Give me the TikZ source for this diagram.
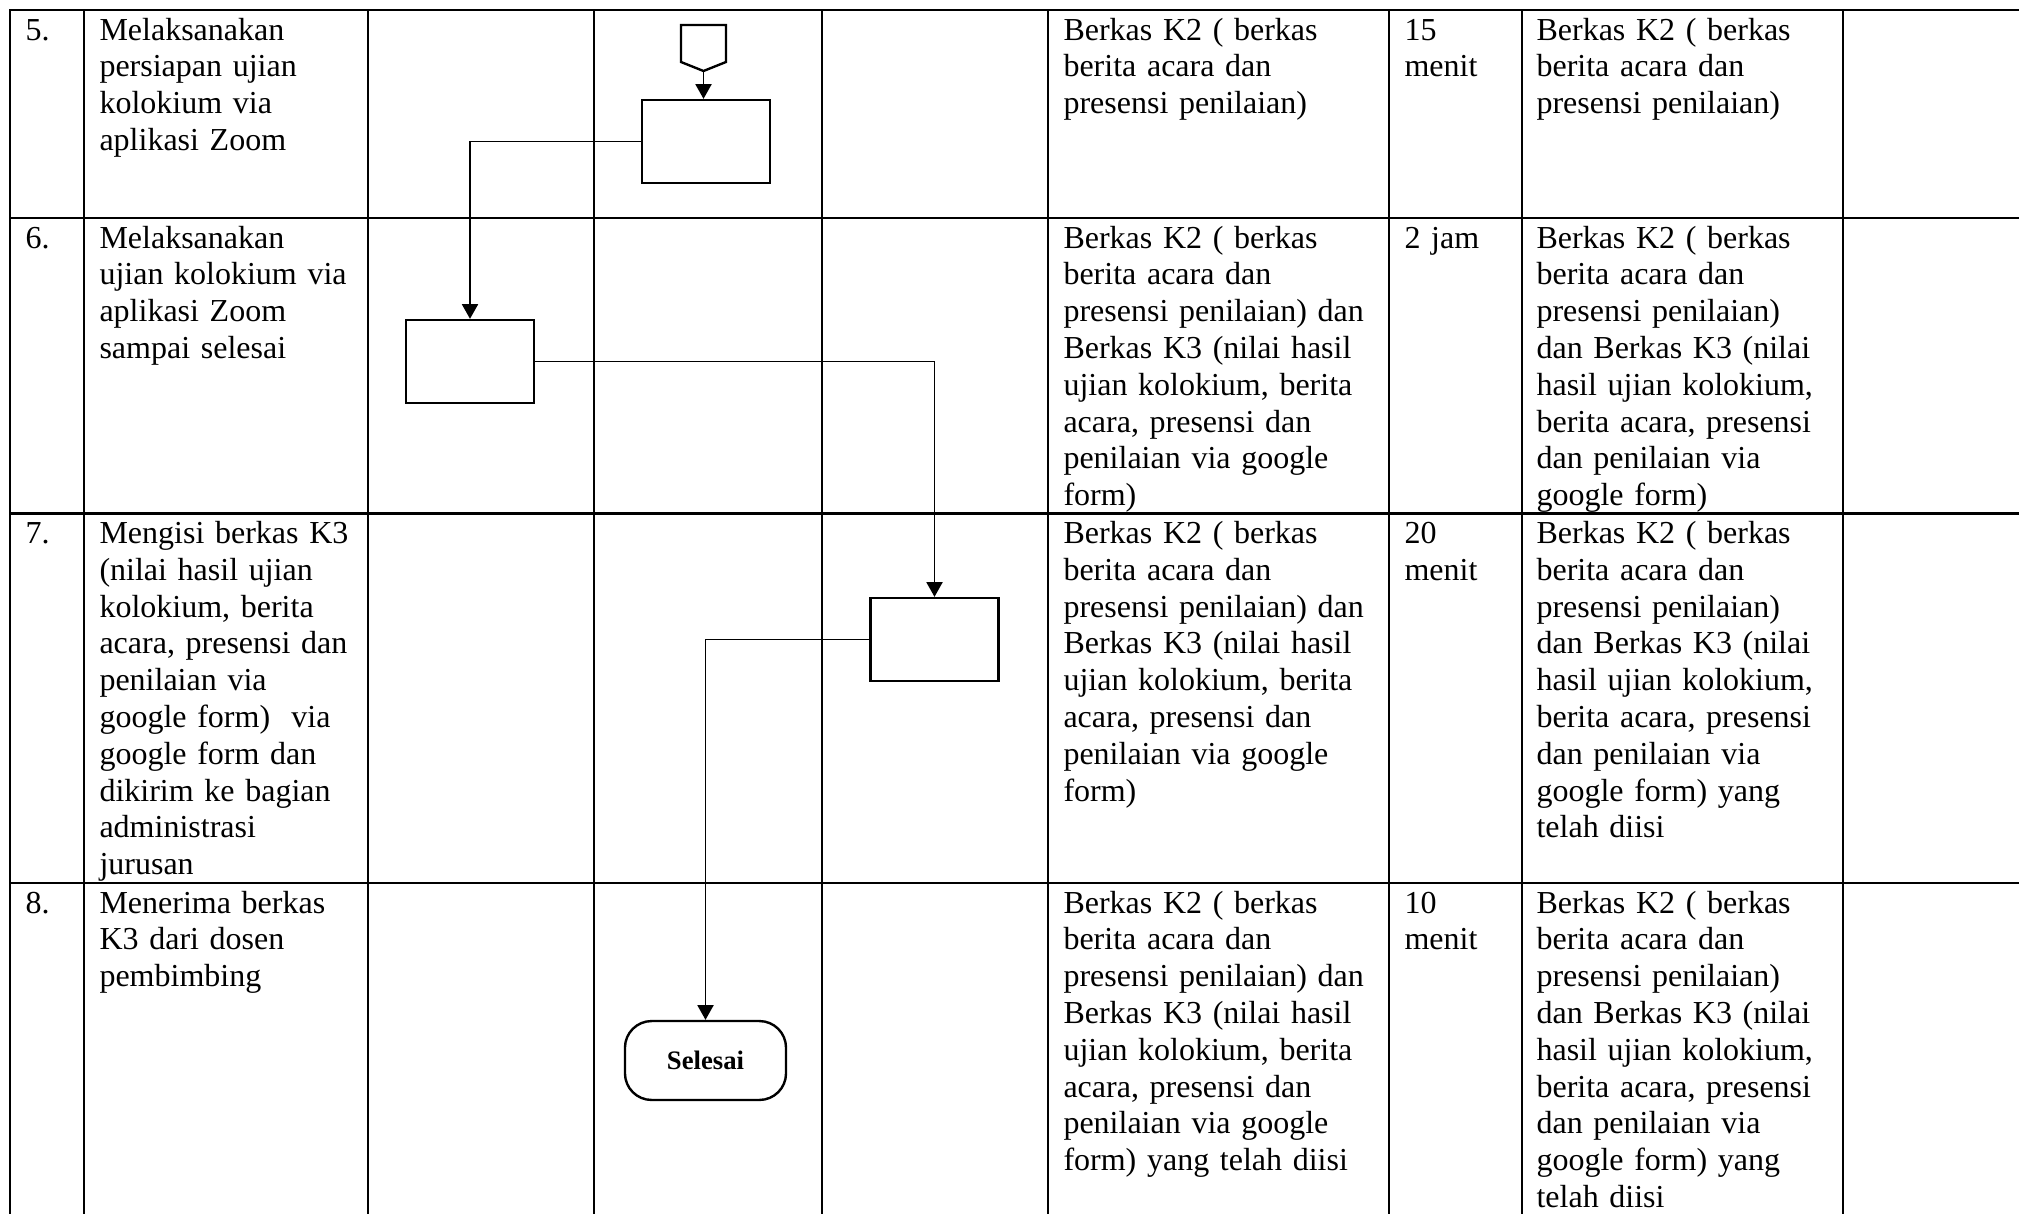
\documentclass[tikz,border=0pt]{standalone}
\usepackage{fontspec}
\setmainfont{Liberation Serif}
\usetikzlibrary{arrows.meta}
\tikzstyle{grid}=[line width=.85pt]
\tikzstyle{cell}=[anchor=base west,inner sep=0pt,text width=135pt,align=left,font=\fontsize{12}{13.8}\selectfont]
\tikzstyle{proc}=[draw,line width=.9pt,minimum width=48pt,minimum height=31.1pt,inner sep=0pt]
\tikzstyle{term}=[draw,line width=.9pt,rounded corners=10pt,minimum width=60.4pt,minimum height=29.6pt,inner sep=0pt,font=\fontsize{10}{12}\selectfont\bfseries]
\tikzstyle{flow}=[line width=.7pt,-{Triangle[length=5.5pt,width=6pt]}]

\begin{document}
\begin{tikzpicture}[x=.375pt,y=-.375pt]
	\useasboundingbox (0,0) rectangle (2019,1214);
	% table
	\draw[grid] (10,1214) -- (10,10) -- (2019,10);
	\foreach \ry in {218,513.5,883} \draw[grid] (10,\ry) -- (2019,\ry);
	\foreach \cx in {84,368,594,822,1048,1389,1522,1843} \draw[grid] (\cx,10) -- (\cx,1214);
	% row 5
	\node[cell] (n5) at (25,40) {5.};
	\node[cell] (d5) at (99,40) {Melaksanakan\\persiapan ujian\\kolokium via\\aplikasi Zoom};
	\node[cell] (in5) at (1063,40) {Berkas K2 ( berkas\\berita acara dan\\presensi penilaian)};
	\node[cell] (t5) at (1404,40) {15\\menit};
	\node[cell] (out5) at (1536,40) {Berkas K2 ( berkas\\berita acara dan\\presensi penilaian)};
	% row 6
	\node[cell] (n6) at (25,248) {6.};
	\node[cell] (d6) at (99,248) {Melaksanakan\\ujian kolokium via\\aplikasi Zoom\\sampai selesai};
	\node[cell] (in6) at (1063,248) {Berkas K2 ( berkas\\berita acara dan\\presensi penilaian) dan\\Berkas K3 (nilai hasil\\ujian kolokium, berita\\acara, presensi dan\\penilaian via google\\form)};
	\node[cell] (t6) at (1404,248) {2 jam};
	\node[cell] (out6) at (1536,248) {Berkas K2 ( berkas\\berita acara dan\\presensi penilaian)\\dan Berkas K3 (nilai\\hasil ujian kolokium,\\berita acara, presensi\\dan penilaian via\\google form)};
	% row 7
	\node[cell] (n7) at (25,543.5) {7.};
	\node[cell] (d7) at (99,543.5) {Mengisi berkas K3\\(nilai hasil ujian\\kolokium, berita\\acara, presensi dan\\penilaian via\\google form)~ via\\google form dan\\dikirim ke bagian\\administrasi\\jurusan};
	\node[cell] (in7) at (1063,543.5) {Berkas K2 ( berkas\\berita acara dan\\presensi penilaian) dan\\Berkas K3 (nilai hasil\\ujian kolokium, berita\\acara, presensi dan\\penilaian via google\\form)};
	\node[cell] (t7) at (1404,543.5) {20\\menit};
	\node[cell] (out7) at (1536,543.5) {Berkas K2 ( berkas\\berita acara dan\\presensi penilaian)\\dan Berkas K3 (nilai\\hasil ujian kolokium,\\berita acara, presensi\\dan penilaian via\\google form) yang\\telah diisi};
	% row 8
	\node[cell] (n8) at (25,913) {8.};
	\node[cell] (d8) at (99,913) {Menerima berkas\\K3 dari dosen\\pembimbing};
	\node[cell] (in8) at (1063,913) {Berkas K2 ( berkas\\berita acara dan\\presensi penilaian) dan\\Berkas K3 (nilai hasil\\ujian kolokium, berita\\acara, presensi dan\\penilaian via google\\form) yang telah diisi};
	\node[cell] (t8) at (1404,913) {10\\menit};
	\node[cell] (out8) at (1536,913) {Berkas K2 ( berkas\\berita acara dan\\presensi penilaian)\\dan Berkas K3 (nilai\\hasil ujian kolokium,\\berita acara, presensi\\dan penilaian via\\google form) yang\\telah diisi};
	% flow
	\draw[line width=.9pt] (681,25) -- (726,25) -- (726,62) -- (703.5,71) -- (681,62) -- cycle;
	\coordinate (op) at (703.5,71);
	\node[proc] (b1) at (706,141.5) {};
	\node[proc] (b2) at (470,361.5) {};
	\node[proc] (b3) at (934.5,639.5) {};
	\node[term] (sel) at (705.5,1060.5) {Selesai};
	\draw[flow] (op) -- (op |- b1.north);
	\draw[flow] (b1.west) -| (b2.north);
	\draw[flow] (b2.east) -| (b3.north);
	\draw[flow] (b3.west) -| (sel.north);
\end{tikzpicture}
\end{document}
